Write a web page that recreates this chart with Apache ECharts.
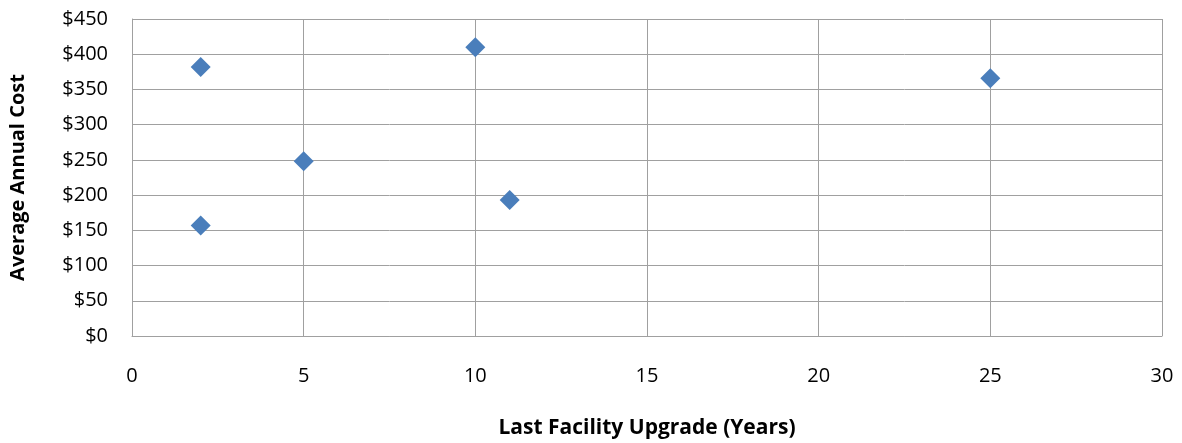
<!DOCTYPE html>
<html><head><meta charset="utf-8">
<script src="https://cdn.jsdelivr.net/npm/echarts@6/dist/echarts.min.js"></script>
<style>html,body{margin:0;padding:0;background:#fff}#c{width:1182px;height:443px}</style>
</head><body><div id="c"></div>
<script>
const upgradeYears = [2, 2, 5, 10, 11, 25];
const annualCost = [382, 157, 248, 410, 193, 366];
const xTitle = 'Last Facility Upgrade (Years)';
const yTitle = 'Average Annual Cost';
const font = '"Open Sans", "Noto Sans", sans-serif';
const chart = echarts.init(document.getElementById('c'), null, {renderer: 'canvas'});
chart.setOption({
  animation: false,
  grid: {left: 132, top: 19, width: 1030, height: 317, containLabel: false, outerBoundsMode: 'none'},
  xAxis: {
    type: 'value', min: 0, max: 30, interval: 5,
    name: xTitle, nameLocation: 'middle', nameGap: 82,
    nameTextStyle: {fontFamily: font, fontWeight: 'bold', fontSize: 21, color: '#000'},
    axisLine: {show: true, lineStyle: {color: '#a0a0a0', width: 1}},
    axisTick: {show: false},
    axisLabel: {fontFamily: font, fontSize: 20, color: '#000', margin: 30},
    splitLine: {show: true, lineStyle: {color: '#a0a0a0', width: 1}}
  },
  yAxis: {
    type: 'value', min: 0, max: 450, interval: 50,
    name: yTitle, nameLocation: 'middle', nameGap: 104, nameRotate: 90,
    nameTextStyle: {fontFamily: font, fontWeight: 'bold', fontSize: 20, color: '#000'},
    axisLine: {show: true, lineStyle: {color: '#a0a0a0', width: 1}},
    axisTick: {show: false},
    axisLabel: {fontFamily: font, fontSize: 20, color: '#000', margin: 24, formatter: v => '$' + v},
    splitLine: {show: true, lineStyle: {color: '#a0a0a0', width: 1}}
  },
  series: [{
    type: 'scatter',
    data: upgradeYears.map((x, i) => [x, annualCost[i]]),
    symbol: 'diamond', symbolSize: 20,
    itemStyle: {color: '#4a7ebb', opacity: 1}
  }]
});
</script></body></html>
